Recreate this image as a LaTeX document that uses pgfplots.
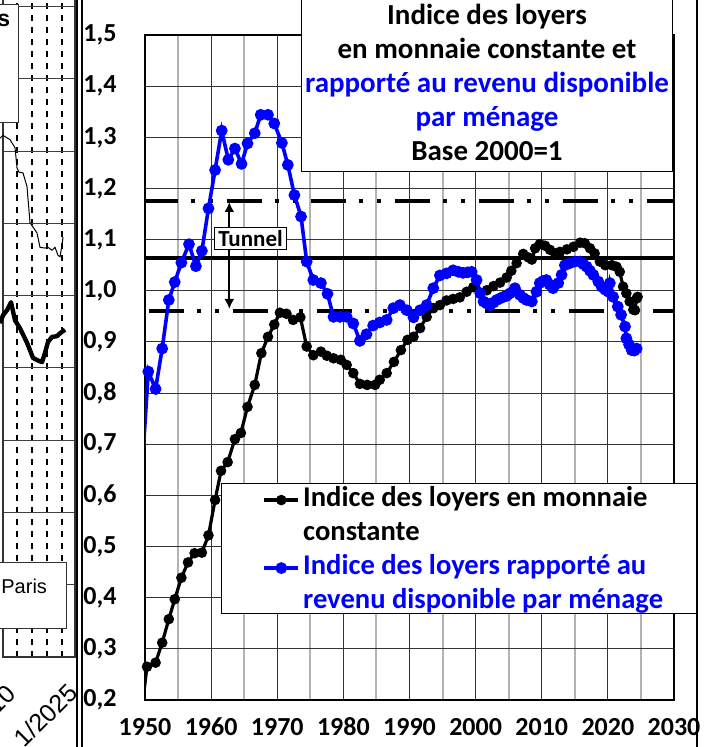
\documentclass[border=0pt]{standalone}
\usepackage{pgfplots}
\pgfplotsset{compat=1.18}
\usepackage{fontspec}
\setmainfont{Carlito}
\newfontfamily\arialf{Liberation Sans}
\usetikzlibrary{arrows.meta}

\begin{document}
\begin{tikzpicture}
\useasboundingbox (0,0) rectangle (356.5pt,373.5pt);

% ---------- partial left panel ----------
\begin{axis}[
  at={(1.5pt,45pt)}, anchor=south west, scale only axis,
  width=36pt, height=361.25pt,
  xmin=3, xmax=75, ymin=0, ymax=10,
  xtick={17,32,47,62}, ytick={1,2,3,4,5,6,7,8,9},
  xticklabels={}, yticklabels={},
  major tick length=0pt,
  xmajorgrids, ymajorgrids,
  x grid style={black, dashed, line width=0.6pt},
  y grid style={black!75, line width=0.5pt},
  axis line style={black!80, line width=0.6pt},
  clip=false,
]
\addplot[black, line width=0.5pt] coordinates {
(0,7.18)(3,7.22)(10,7.16)(15,7.05)(17,6.77)(19,6.71)(23,6.70)(27,6.51)(30,6.01)(33,5.95)
(37,5.87)(40,5.67)(45,5.66)(48,5.67)(52,5.63)(55,5.67)(58,5.56)(60,5.54)(62,5.70)(63,5.81)};
\addplot[black, line width=2.2pt, line join=round] coordinates {
(0,4.62)(3,4.73)(7,4.80)(11,4.91)(15,4.66)(20,4.55)(27,4.35)(33,4.14)(37,4.11)(42,4.08)
(45,4.21)(48,4.36)(52,4.43)(57,4.44)(60,4.48)(65,4.53)};
\end{axis}

% ---------- main chart ----------
\begin{axis}[
  at={(72.5pt,23.5pt)}, anchor=south west, scale only axis,
  width=264.5pt, height=332.5pt,
  xmin=1950, xmax=2030, ymin=0.2, ymax=1.5,
  xtick={1950,1960,1970,1980,1990,2000,2010,2020,2030},
  xticklabels={1950,1960,1970,1980,1990,2000,2010,2020,2030},
  minor xtick={1955,1965,1975,1985,1995,2005,2015,2025},
  ytick={0.2,0.3,0.4,0.5,0.6,0.7,0.8,0.9,1.0,1.1,1.2,1.3,1.4,1.5},
  yticklabels={{0,2},{0,3},{0,4},{0,5},{0,6},{0,7},{0,8},{0,9},{1,0},{1,1},{1,2},{1,3},{1,4},{1,5}},
  major tick length=0pt, minor tick length=0pt,
  xmajorgrids, xminorgrids, ymajorgrids,
  major grid style={black!80, line width=0.5pt},
  minor grid style={black!30, line width=1pt},
  axis line style={black, line width=0.7pt},
  ticklabel style={font=\bfseries\fontsize{13pt}{15pt}\selectfont},
  yticklabel style={anchor=west, inner sep=0pt, xshift=-31pt},
  xticklabel style={anchor=center, inner sep=0pt, yshift=-13.5pt},
  clip mode=individual,
  legend style={at={(rel axis cs:0.2212,0.3268)}, anchor=north west,
    draw=none, fill=none, inner sep=0pt, row sep=0pt,
    font=\bfseries\fontsize{14.3pt}{17pt}\selectfont,
    nodes={inner sep=0pt, text depth=, text height=},
    /tikz/every even column/.append style={column sep=0pt},
    /tikz/every odd column/.append style={column sep=1.5pt}},
  legend cell align=left,
]
% tunnel lines
\addplot[forget plot, black, line width=2pt, dash pattern=on 17.5pt off 6.5pt on 2pt off 7pt on 2pt off 7pt, dash phase=1pt] coordinates {(1950,1.175)(2030,1.175)};
\addplot[forget plot, black, line width=2pt] coordinates {(1950,1.065)(2030,1.065)};
\addplot[forget plot, black, line width=2pt, dash pattern=on 17.5pt off 6.5pt on 2pt off 7pt on 2pt off 7pt, dash phase=40pt] coordinates {(1950,0.96)(2030,0.96)};

\addplot[black, line width=1.6pt, mark=*, mark size=1.8pt, mark options={fill=black}] coordinates {
(1949.5,0.18)(1950.3,0.265)(1951.6,0.273)(1952.6,0.312)(1953.6,0.358)(1954.5,0.397)(1955.5,0.439)
(1956.5,0.469)(1957.5,0.487)(1958.6,0.488)(1959.6,0.522)(1960.6,0.591)(1961.5,0.648)(1962.5,0.665)
(1963.6,0.710)(1964.5,0.722)(1965.5,0.773)(1966.6,0.816)(1967.6,0.878)(1968.6,0.910)(1969.55,0.934)
(1970.4,0.957)(1971.4,0.955)(1972.4,0.943)(1973.5,0.948)(1974.45,0.891)(1975.45,0.874)(1976.6,0.881)
(1977.5,0.873)(1978.5,0.868)(1979.6,0.865)(1980.5,0.855)(1981.5,0.839)(1982.5,0.818)(1983.6,0.816)
(1984.8,0.816)(1985.5,0.826)(1986.55,0.839)(1987.65,0.861)(1988.7,0.884)(1989.7,0.904)(1990.6,0.910)
(1991.6,0.927)(1992.6,0.949)(1993.6,0.966)(1994.6,0.972)(1995.6,0.981)(1996.6,0.984)(1997.6,0.987)
(1998.65,0.998)(1999.65,1.007)(2000.7,0.996)(2001.7,1.001)(2002.7,1.009)(2003.7,1.016)(2004.7,1.026)
(2005.4,1.039)(2006.2,1.054)(2007.2,1.072)(2008.0,1.065)(2008.5,1.061)(2009.0,1.083)(2009.7,1.091)
(2010.5,1.088)(2011.25,1.080)(2012.0,1.073)(2012.75,1.076)(2013.8,1.081)(2014.8,1.086)(2015.8,1.094)
(2016.5,1.093)(2017.3,1.083)(2018.0,1.073)(2018.8,1.057)(2019.6,1.050)(2020.6,1.050)(2021.3,1.047)
(2021.8,1.037)(2022.3,1.008)(2022.8,0.995)(2023.3,0.979)(2023.85,0.963)(2024.1,0.962)(2024.35,0.985)(2024.5,0.988)};
\addlegendentry{\strut Indice des loyers en monnaie}
\addlegendimage{empty legend}
\addlegendentry{\strut constante}

\addplot[blue, line width=1.8pt, mark=*, mark size=2pt, mark options={fill=blue}] coordinates {
(1949.5,0.64)(1950.5,0.842)(1951.6,0.808)(1952.6,0.887)(1953.6,0.982)(1954.5,1.017)(1955.5,1.055)
(1956.65,1.091)(1957.7,1.048)(1958.6,1.078)(1959.6,1.161)(1960.6,1.236)(1961.6,1.313)(1962.6,1.256)
(1963.6,1.278)(1964.6,1.248)(1965.5,1.288)(1966.6,1.308)(1967.5,1.344)(1968.6,1.344)(1969.55,1.327)
(1970.7,1.289)(1971.6,1.246)(1972.6,1.187)(1973.6,1.145)(1974.45,1.057)(1975.45,1.021)(1976.6,1.015)
(1977.6,0.994)(1978.5,0.949)(1979.5,0.949)(1980.5,0.949)(1981.5,0.936)(1982.5,0.902)(1983.5,0.915)
(1984.5,0.932)(1985.5,0.938)(1986.55,0.943)(1987.55,0.966)(1988.55,0.972)(1989.6,0.962)(1990.6,0.948)
(1991.6,0.962)(1992.6,0.972)(1993.6,1.005)(1994.6,1.030)(1995.6,1.034)(1996.6,1.040)(1997.4,1.037)
(1998.1,1.035)(1998.8,1.036)(1999.4,1.037)(2000.15,1.021)(2000.7,0.995)(2001.2,0.979)(2001.7,0.975)
(2002.2,0.972)(2002.7,0.977)(2003.2,0.982)(2003.7,0.985)(2004.2,0.988)(2004.7,0.990)(2005.2,0.995)
(2005.95,1.005)(2006.7,0.992)(2007.2,0.986)(2007.7,0.982)(2008.5,0.979)(2009.2,0.998)(2009.7,1.015)
(2010.2,1.019)(2010.7,1.021)(2011.2,1.012)(2011.7,1.005)(2012.5,1.015)(2013.0,1.031)(2013.5,1.050)
(2014.25,1.054)(2015.0,1.057)(2015.8,1.057)(2016.3,1.052)(2016.8,1.047)(2017.3,1.039)(2017.8,1.031)
(2018.55,1.018)(2019.05,1.008)(2019.6,1.002)(2020.1,0.998)(2020.3,1.015)(2020.8,0.988)(2021.5,0.969)
(2022.0,0.953)(2022.6,0.930)(2022.8,0.907)(2023.2,0.895)(2023.6,0.884)(2024.0,0.883)(2024.35,0.887)};
\addlegendentry{\strut\textcolor{blue}{Indice des loyers rapporté au}}
\addlegendimage{empty legend}
\addlegendentry{\strut\textcolor{blue}{revenu disponible par ménage}}

% legend box
\draw[fill=white, line width=0.5pt] (rel axis cs:0.145,0.3259) rectangle (rel axis cs:1.0435,0.1304);
\end{axis}

% ---------- decorations in pixel coordinates ----------
\begin{scope}[x=0.5pt, y=-0.5pt, yshift=373.5pt]
  % left panel boxes and labels
  \draw[fill=white, draw=black!80, line width=0.5pt] (-10,5) rectangle (18,123);
  \node[anchor=base east, inner sep=0pt, font=\arialf\bfseries\fontsize{11.5pt}{13pt}\selectfont] at (10.5,27) {Loyers};
  \draw[fill=white, draw=black!80, line width=0.5pt] (-10,563) rectangle (66.7,629);
  \node[anchor=base west, inner sep=0pt, font=\arialf\fontsize{10pt}{12pt}\selectfont] at (1,594) {Paris};
  \node[anchor=east, rotate=45, inner sep=0pt, font=\arialf\fontsize{12.5pt}{14pt}\selectfont] at (73,688) {1/2025};
  \node[anchor=east, rotate=45, inner sep=0pt, font=\arialf\fontsize{12.5pt}{14pt}\selectfont] at (11,689) {1/2010};
  % frames
  \draw[black, line width=1pt] (76.7,-5) -- (76.7,760);
  \draw[black, line width=1pt] (81.7,-5) -- (81.7,760);
  \draw[black, line width=1pt] (697,-5) -- (697,760);
  % title box
  \draw[fill=white, line width=0.5pt] (301.7,-10) rectangle (672.7,171.7);
  \begin{scope}[font=\bfseries\fontsize{14.5pt}{17pt}\selectfont]
    \node[anchor=base, inner sep=0pt] at (487,25) {Indice des loyers};
    \node[anchor=base, inner sep=0pt] at (487,59) {en monnaie constante et};
    \node[anchor=base, inner sep=0pt, text=blue] at (487,93) {rapporté au revenu disponible};
    \node[anchor=base, inner sep=0pt, text=blue] at (487,127) {par ménage};
    \node[anchor=base, inner sep=0pt] at (487,161) {Base 2000=1};
  \end{scope}
  % tunnel arrow and label
  \draw[line width=1pt, {Latex[length=5pt,width=5pt]}-{Latex[length=5pt,width=5pt]}] (229.3,202) -- (229.3,309);
  \node[draw, fill=white, line width=0.5pt, inner xsep=2pt, inner ysep=1.5pt, font=\bfseries\fontsize{11.5pt}{13pt}\selectfont] at (250.5,238.5) {Tunnel};
\end{scope}
\end{tikzpicture}
\end{document}
